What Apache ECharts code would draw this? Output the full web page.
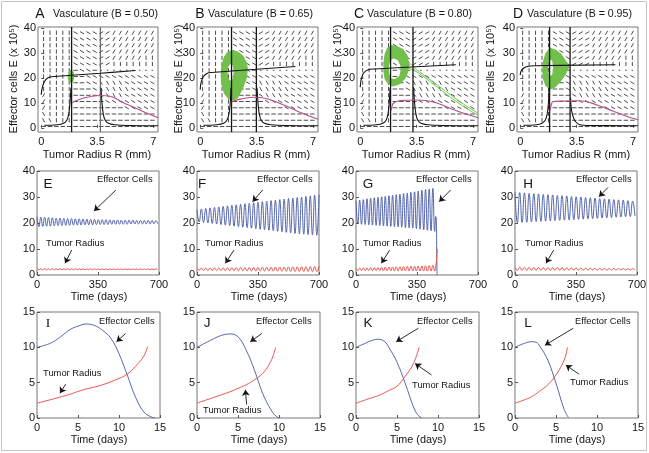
<!DOCTYPE html>
<html>
<head>
<meta charset="utf-8">
<script src="https://cdn.jsdelivr.net/npm/echarts@6/dist/echarts.min.js"></script>
<style>
  html, body { margin: 0; padding: 0; background: #fff; }
  #main { width: 649px; height: 453px; }
</style>
</head>
<body>
<div id="main"></div>
<script>
// ---------- row 1 : phase portraits ----------
const vascLetters = ['A', 'B', 'C', 'D'];
const vascValues = ['0.50', '0.65', '0.80', '0.95'];
const radiusTicks = [0, 3.5, 7];
const effTicks = [0, 10, 20, 30, 40];

// vertical R-nullclines
const rNull1 = [1.9, 1.94, 1.88, 1.82];
const rNull2 = [3.7, 3.48, 3.27, 3.09];

// E-nullcline (upper black curve)
const eNullA = [[0, 13.2], [0.06, 15.8], [0.2, 18.5], [0.4, 19.9], [0.65, 20.4], [1.9, 21.0], [3.7, 21.8], [5.9, 22.9]];
const eNullB = [[0, 15.2], [0.05, 18], [0.2, 20.5], [0.45, 21.8], [0.7, 22.1], [5.9, 24.5]];
const eNullC = [[0, 16.2], [0.05, 19], [0.2, 21.8], [0.5, 23.2], [0.9, 23.5], [5.93, 25.2]];
const eNullD = [[0, 21], [0.05, 22.6], [0.2, 23.8], [0.5, 24.6], [0.9, 24.8], [5.9, 25.2]];

// lower black curve, two branches
const lowLeftA = [[0.2, 1.0], [1.0, 1.2], [1.4, 1.8], [1.6, 3], [1.72, 5.5], [1.8, 10], [1.86, 16]];
const lowRightA = [[3.74, 16], [3.8, 10], [3.88, 5.5], [4.0, 3], [4.2, 1.8], [4.6, 1.2], [5.5, 0.9], [7.3, 0.8]];
const lowLeftB = [[0.2, 1.0], [1.0, 1.2], [1.45, 1.8], [1.65, 3], [1.78, 5.5], [1.86, 10], [1.91, 16]];
const lowRightB = [[3.52, 16], [3.58, 10], [3.66, 5.5], [3.78, 3], [3.98, 1.8], [4.4, 1.2], [5.3, 0.9], [7.3, 0.8]];
const lowLeftC = [[0.2, 1.0], [1.0, 1.2], [1.4, 1.8], [1.6, 3], [1.72, 5.5], [1.8, 10], [1.85, 16]];
const lowRightC = [[3.31, 16], [3.37, 10], [3.45, 5.5], [3.57, 3], [3.77, 1.8], [4.2, 1.2], [5.1, 0.9], [7.3, 0.8]];
const lowLeftD = [[0.2, 1.0], [1.0, 1.2], [1.35, 1.8], [1.55, 3], [1.67, 5.5], [1.75, 10], [1.79, 16]];
const lowRightD = [[3.12, 12], [3.18, 7], [3.3, 4], [3.45, 2.3], [3.7, 1.2], [4.2, 0.9], [7.3, 0.8]];

// magenta curve
const pinkA = [[1.95, 10], [2.1, 10.6], [2.6, 11.8], [3.2, 12.6], [3.7, 12.9], [4.3, 12.6], [4.8, 11.2], [5.3, 9.5], [5.8, 8.2], [6.4, 6.4], [7.3, 4.0]];
const pinkB = [[1.95, 10.2], [2.1, 10.8], [2.6, 11.6], [3.1, 12.1], [3.5, 12.2], [4.0, 11.8], [4.6, 10.6], [5.1, 9.3], [5.7, 7.6], [6.4, 5.6], [7.3, 3.4]];
const pinkC = [[1.92, 6.8], [1.97, 8.6], [2.05, 9.8], [2.3, 10.6], [2.8, 11.0], [3.4, 11.1], [4.0, 10.9], [4.6, 10.2], [5.2, 8.8], [5.8, 7.2], [6.5, 5.6], [7.3, 4.0]];
const pinkD = [[1.85, 6.8], [1.92, 9], [2.02, 10.4], [2.5, 10.7], [3.5, 10.8], [4.0, 10.6], [4.8, 9], [5.75, 6.7], [6.5, 4.8], [7.3, 3.2]];

// green trajectories (outer edge + hole)
const greenOuterA = [[1.86, 23], [1.98, 22.2], [2.03, 20.5], [1.98, 18.8], [1.86, 18.1], [1.74, 18.8], [1.69, 20.5], [1.74, 22.2]];
const greenHoleA = [];
const greenOuterB = [[2.0, 30.8], [2.35, 30.2], [2.65, 28.5], [2.85, 26], [2.92, 23.5], [2.85, 20], [2.6, 15.5], [2.3, 12], [2.05, 11.1], [1.75, 11.8], [1.5, 13.8], [1.35, 17.5], [1.3, 21], [1.35, 25], [1.5, 28.2], [1.7, 30.2]];
const greenHoleB = [[1.88, 25.8], [2.05, 25], [2.12, 22.5], [2.05, 19.5], [1.88, 18.3], [1.72, 19.5], [1.65, 22.5], [1.72, 25]];
const greenOuterC = [[1.95, 32.8], [2.3, 32.4], [2.65, 31.2], [2.9, 28.8], [3.0, 25.8], [2.95, 22.5], [2.75, 19.6], [2.4, 17.5], [2.05, 16.8], [1.75, 17.6], [1.55, 19.5], [1.47, 22.5], [1.47, 26], [1.55, 29.5], [1.7, 31.8]];
const greenHoleC = [[2.05, 28.0], [2.35, 27.3], [2.52, 25], [2.55, 23], [2.45, 20.5], [2.15, 19.2], [1.9, 19.6], [1.76, 21.5], [1.73, 24.5], [1.82, 27]];
const greenOuterD = [[1.85, 31.8], [2.2, 31], [2.5, 29.5], [2.75, 27.2], [3.02, 24.5], [2.8, 21.5], [2.5, 18.8], [2.15, 16.3], [1.85, 15.6], [1.6, 16.8], [1.45, 19.5], [1.4, 23], [1.45, 26.5], [1.58, 29.5]];
const greenHoleD = [[1.88, 27.6], [2.02, 26.8], [2.08, 24], [2.02, 21.2], [1.88, 20.4], [1.74, 21.2], [1.68, 24], [1.74, 26.8]];
const greenTailC1 = [[2.9, 27], [3.2, 25], [3.5, 23.2], [4.3, 19.4], [5.3, 14.6], [6.3, 9.9], [7.3, 5.8]];
const greenTailC2 = [[2.95, 24], [3.3, 23], [3.6, 22], [4.3, 18.6], [5.3, 13.6], [6.3, 8.9], [7.3, 5.0]];

// direction field: columns (R), rows (E), one letter per arrow
// v vertical, p steep up, a shallow up, h flat, b shallow down, n steep down, o tiny
const fieldR = [0.15, 0.55, 0.95, 1.35, 1.75, 2.15, 2.55, 2.95, 3.35, 3.75, 4.15, 4.55, 4.95, 5.35, 5.75, 6.15, 6.55, 6.95];
const fieldE = [38, 35.5, 33, 30.5, 28, 25.5, 23, 20.5, 18, 15.5, 13, 10.5, 8, 5.5, 3, 0.5];
const fieldAB = [
  'vvvvvbbbbaappppppp',
  'vvvvvbbbbaappppppp',
  'vvvvvbbbbaappppppp',
  'vvvvvbbbbaappppppp',
  'vvvvvbbbbaapppppvv',
  'vvvvvbbbbaavvvvvvv',
  'vvvvvhbbhooooooooo',
  'vvvvvhhbbbbbbbbbbb',
  'vvvvvhhbbnnnnbbbbb',
  'vvvvvhhhbnnnnnbbbb',
  'pvvvvhhhhbnnnbbbbb',
  'pvvvvhhhhhbbbbbbbb',
  'pvvvvhhhhhhhhbbbbb',
  'nvvvvhhhhhhhhhhhhh',
  'nnvvvhhhhhhhhhhhhh',
  'hhhhhhhhhhhhhhhhhh'
];
const fieldCD = [
  'vvvvvbbbaaappppppp',
  'vvvvvbbbaaappppppp',
  'vvvvvbbbaaappppppp',
  'vvvvvbbbaaappppppp',
  'vvvvvbbbaaapppppvv',
  'vvvvvbbbaaavvvvvvv',
  'vvvvvhbhoooooooooo',
  'vvvvvhhbbbbbbbbbbb',
  'vvvvvhhbnnnnnbbbbb',
  'vvvvvhhbnnnnnnbbbb',
  'pvvvvhhhbnnnnbbbbb',
  'pvvvvhhhhbbbbbbbbb',
  'pvvvvhhhhhhhhbbbbb',
  'nvvvvhhhhhhhhhhhhh',
  'nnvvvhhhhhhhhhhhhh',
  'hhhhhhhhhhhhhhhhhh'
];

// ---------- row 2 : long-term time courses ----------
const timeLetters = ['E', 'F', 'G', 'H'];
const longTimeTicks = [0, 350, 700];
const cycleDays = [22, 25, 21, 27];

const effHiE = [22.4, 22.3, 22.2, 22.1, 22.0, 21.9, 21.9, 21.8, 21.7, 21.7, 21.6, 21.6, 21.5, 21.5, 21.4, 21.4, 21.3, 21.3, 21.3, 21.2, 21.2, 21.2, 21.1, 21.1, 21.1, 21.1, 21.0, 21.0, 21.0, 21.0, 21.0, 20.9];
const effLoE = [18.6, 18.7, 18.8, 18.8, 18.9, 19.0, 19.0, 19.1, 19.1, 19.2, 19.2, 19.2, 19.3, 19.3, 19.3, 19.4, 19.4, 19.4, 19.4, 19.5, 19.5, 19.5, 19.5, 19.5, 19.6, 19.6, 19.6, 19.6, 19.6, 19.6, 19.7, 19.7];
const radHiE = [2.45, 2.44, 2.43, 2.42, 2.41, 2.40, 2.40, 2.39, 2.38, 2.38, 2.37, 2.37, 2.36, 2.36, 2.35, 2.35, 2.35, 2.34, 2.34, 2.34, 2.33, 2.33, 2.33, 2.33, 2.32, 2.32, 2.32, 2.32, 2.31, 2.31, 2.31, 2.31];
const radLoE = [1.95, 1.96, 1.97, 1.98, 1.99, 2.00, 2.00, 2.01, 2.02, 2.02, 2.03, 2.03, 2.04, 2.04, 2.05, 2.05, 2.05, 2.06, 2.06, 2.06, 2.07, 2.07, 2.07, 2.07, 2.08, 2.08, 2.08, 2.08, 2.09, 2.09, 2.09, 2.09];

const effHiF = [25.2, 25.4, 25.6, 25.8, 26.0, 26.2, 26.4, 26.6, 26.8, 27.0, 27.2, 27.4, 27.6, 27.8, 28.0, 28.2, 28.4, 28.6, 28.8, 29.0, 29.2, 29.4, 29.6, 29.8, 30.0, 30.2, 30.4, 30.7, 30.9];
const effLoF = [20.4, 20.2, 20.0, 19.8, 19.6, 19.4, 19.2, 19.0, 18.8, 18.6, 18.4, 18.2, 18.0, 17.8, 17.6, 17.4, 17.2, 17.0, 16.8, 16.6, 16.4, 16.2, 16.0, 15.8, 15.7, 15.6, 15.4, 15.3];
const radHiF = [2.6, 2.62, 2.65, 2.67, 2.7, 2.72, 2.75, 2.77, 2.8, 2.82, 2.85, 2.87, 2.9, 2.92, 2.95, 2.97, 3.0, 3.02, 3.05, 3.07, 3.1, 3.12, 3.15, 3.17, 3.2, 3.22, 3.25, 3.3, 3.32];
const radLoF = [1.8, 1.78, 1.76, 1.74, 1.72, 1.7, 1.68, 1.66, 1.64, 1.62, 1.6, 1.58, 1.56, 1.54, 1.52, 1.5, 1.48, 1.46, 1.44, 1.42, 1.4, 1.38, 1.36, 1.34, 1.33, 1.32, 1.31, 1.3];

const effHiG = [28.6, 28.8, 29.0, 29.3, 29.5, 29.7, 29.9, 30.1, 30.3, 30.5, 30.7, 30.9, 31.1, 31.3, 31.5, 31.8, 32.0, 32.3, 32.6, 32.9, 33.1];
const effLoG = [19.6, 19.5, 19.4, 19.3, 19.2, 19.1, 19.0, 18.9, 18.8, 18.7, 18.6, 18.5, 18.4, 18.2, 18.1, 18.0, 17.8, 17.6, 17.4, 17.2, 17.0];
const radHiG = [2.6, 2.65, 2.7, 2.75, 2.8, 2.85, 2.9, 2.95, 3.0, 3.05, 3.1, 3.15, 3.2, 3.25, 3.3, 3.35, 3.4, 3.45, 3.5, 3.55, 3.6];
const radLoG = [1.7, 1.7, 1.69, 1.68, 1.67, 1.66, 1.65, 1.64, 1.63, 1.62, 1.61, 1.6, 1.59, 1.58, 1.57, 1.56, 1.55, 1.54, 1.53, 1.52, 1.5];
const effTailG = [[441, 33.3], [451.5, 16.8], [458, 22.5], [461, 21], [463, 10], [465, 0]];
const radTailG = [[441, 3.7], [451.5, 1.5], [458, 3.8], [461, 5], [464, 7.5], [467, 10]];

const effHiH = [31.8, 31.7, 31.6, 31.4, 31.3, 31.2, 31.0, 30.9, 30.8, 30.6, 30.5, 30.4, 30.2, 30.1, 30.0, 29.8, 29.7, 29.6, 29.4, 29.3, 29.2, 29.0, 28.9, 28.8, 28.6, 28.4];
const effLoH = [20.1, 20.2, 20.3, 20.4, 20.5, 20.6, 20.7, 20.8, 20.9, 21.0, 21.1, 21.2, 21.3, 21.4, 21.5, 21.6, 21.7, 21.8, 21.9, 22.0, 22.1, 22.2, 22.3, 22.4, 22.5, 22.7];
const radHiH = [3.0, 2.98, 2.96, 2.93, 2.91, 2.88, 2.86, 2.84, 2.81, 2.79, 2.77, 2.74, 2.72, 2.7, 2.67, 2.65, 2.62, 2.6, 2.58, 2.55, 2.53, 2.5, 2.48, 2.46, 2.43, 2.4];
const radLoH = [1.8, 1.81, 1.81, 1.82, 1.82, 1.83, 1.83, 1.84, 1.84, 1.85, 1.85, 1.86, 1.86, 1.87, 1.87, 1.88, 1.88, 1.89, 1.89, 1.9, 1.9, 1.91, 1.92, 1.93, 1.94, 1.95];

// ---------- row 3 : short-term time courses ----------
const shortLetters = ['I', 'J', 'K', 'L'];
const shortTimeTicks = [0, 5, 10, 15];
const shortValTicks = [0, 5, 10, 15];
const effI = [[0, 10], [1, 10.3], [2, 10.8], [3, 11.6], [4, 12.5], [5, 13.0], [6, 13.3], [7, 13.1], [8, 12.4], [9, 11.3], [10, 9.1], [11, 6.1], [12, 3.0], [13, 0.9], [14, 0.1], [14.4, 0]];
const radI = [[0, 2.1], [2, 2.7], [4, 3.35], [5, 3.75], [6, 4.1], [8, 4.7], [10, 5.6], [11, 6.2], [12, 7.3], [13, 8.7], [13.5, 10.1]];
const effJ = [[0, 10], [1, 10.6], [2, 11.2], [3, 11.7], [4, 11.9], [5, 11.5], [6, 9.6], [7, 6.8], [8, 3.5], [9, 1.2], [9.6, 0.3], [10, 0]];
const radJ = [[0, 2.1], [2, 2.9], [4, 3.7], [5, 4.2], [6, 4.7], [7, 5.4], [8, 6.3], [9, 8.0], [9.6, 10]];
const effK = [[0, 10], [1, 10.5], [2, 11.0], [2.7, 11.15], [3.5, 10.8], [4, 10.0], [5, 7.9], [6, 4.9], [7, 1.6], [7.5, 0.5], [8, 0]];
const radK = [[0, 2.1], [1.5, 2.7], [3, 3.3], [4, 3.9], [5, 4.5], [6, 5.9], [7, 7.7], [7.7, 10]];
const effL = [[0, 10], [1, 10.5], [2, 10.8], [2.6, 10.7], [3, 10.2], [4, 8.2], [5, 4.9], [6, 1.2], [6.5, 0.1]];
const radL = [[0, 2.1], [1, 2.5], [2, 3.0], [3, 3.8], [4, 4.7], [5, 6.1], [6, 8.2], [6.4, 10]];

// annotation arrows [from, to] in data units
const arrowEffLong = [[[453, 32.7], [327, 24.6]], [[377, 32.7], [319, 28.2]], [[543, 32.7], [477, 28.2]], [[534, 33.7], [482, 30.1]]];
const arrowRadLong = [[[199, 9.6], [161, 4.5]], [[212, 9.6], [163, 4.5]], [[193, 9.6], [146, 4.5]], [[222, 9.6], [178, 4.5]]];
const arrowEffShort = [[[10.8, 11.95], [9.7, 10.8]], [[7.9, 11.95], [6.5, 10.8]], [[7.6, 12.7], [4.9, 10.8]], [[7.1, 12.7], [3.65, 10.3]]];
const arrowRadShort = [[[3.5, 4.8], [2.8, 3.5]], [[6.05, 1.9], [5.9, 4.0]], [[9.2, 6.1], [7.2, 7.7]], [[7.8, 6.2], [6.2, 7.5]]];

// ---------------------------------------------------------------
const FONT = '"Liberation Sans", Arial, Helvetica, sans-serif';
const BLUE = '#4356a3', RED = '#e4453d', GREEN = '#72bf4c', PINK = '#b84f8f', INK = '#151515';

const grids = [], xAxes = [], yAxes = [], series = [], graphics = [];

function addGrid(left, top, width, height, xr, yr, xTicks, yTicks) {
  const idx = grids.length;
  grids.push({ left: left, top: top, width: width, height: height, show: true, borderColor: '#777', borderWidth: 1, outerBoundsMode: 'none' });
  xAxes.push({
    gridIndex: idx, type: 'value', min: xr[0], max: xr[1],
    axisLine: { show: false }, splitLine: { show: false },
    axisTick: { show: true, inside: true, length: 3, customValues: xTicks, lineStyle: { color: '#555' } },
    axisLabel: { customValues: xTicks, margin: 4, color: INK, fontSize: 11, fontFamily: FONT }
  });
  yAxes.push({
    gridIndex: idx, type: 'value', min: yr[0], max: yr[1],
    axisLine: { show: false }, splitLine: { show: false },
    axisTick: { show: true, inside: true, length: 3, customValues: yTicks, lineStyle: { color: '#555' } },
    axisLabel: { customValues: yTicks, margin: 2, color: INK, fontSize: 11, fontFamily: FONT }
  });
  return idx;
}

function lineSeries(g, data, color, width, smooth, z) {
  return {
    type: 'line', xAxisIndex: g, yAxisIndex: g, data: data, showSymbol: false, symbol: 'none',
    smooth: smooth || false, silent: true, animation: false, z: z || 3,
    lineStyle: { color: color, width: width }
  };
}

function text(str, x, y, size, opts) {
  opts = opts || {};
  graphics.push({
    type: 'text', x: x, y: y, rotation: opts.rotation || 0, silent: true, z: 10,
    style: {
      text: str, fill: INK, font: (opts.family ? size + 'px ' + opts.family : size + 'px ' + FONT),
      textAlign: opts.align || 'center', align: opts.align || 'center',
      textVerticalAlign: 'middle', verticalAlign: 'middle'
    }
  });
}

const arrowAngle = { v: 90, p: 60, a: 30, h: 0, b: -30, n: -60, o: 0 };
function fieldData(rows) {
  const out = [];
  rows.forEach(function (row, i) {
    for (let j = 0; j < row.length; j++) {
      const c = row[j];
      out.push([fieldR[j], fieldE[i], arrowAngle[c], c === 'o' ? 1.6 : (c === 'v' ? 4.2 : 4.6)]);
    }
  });
  return out;
}

function ringArea(r) {
  let s = 0;
  for (let i = 0; i < r.length; i++) {
    const a = r[i], b = r[(i + 1) % r.length];
    s += a[0] * b[1] - b[0] * a[1];
  }
  return s;
}

function blobSeries(g, outer, hole) {
  const data = outer.map(function (p) { return [p[0], p[1], 0]; })
    .concat(hole.map(function (p) { return [p[0], p[1], 1]; }));
  return {
    type: 'custom', xAxisIndex: g, yAxisIndex: g, silent: true, animation: false, z: 2, clip: true,
    data: data,
    renderItem: function (params, api) {
      if (params.dataIndexInside !== 0) return null;
      const rings = [[], []];
      for (let i = 0; i < params.dataInsideLength; i++) {
        rings[api.value(2, i)].push(api.coord([api.value(0, i), api.value(1, i)]));
      }
      if (rings[1].length && Math.sign(ringArea(rings[1])) === Math.sign(ringArea(rings[0]))) rings[1].reverse();
      let d = '';
      rings.forEach(function (r) {
        if (!r.length) return;
        d += 'M' + r.map(function (p) { return p[0].toFixed(2) + ' ' + p[1].toFixed(2); }).join(' L') + ' Z ';
      });
      return { type: 'path', shape: { pathData: d }, style: { fill: GREEN, stroke: GREEN, lineWidth: 1.2 } };
    }
  };
}

// zig-zag between read peaks and troughs, one cycle per entry
function oscillation(hi, lo, period) {
  const pts = [];
  for (let i = 0; i < hi.length; i++) {
    pts.push([i * period, hi[i]]);
    if (i < lo.length) pts.push([(i + 0.5) * period, lo[i]]);
  }
  return pts;
}

function arrowMarks(list) {
  return {
    silent: true, animation: false, symbol: ['none', 'arrow'], symbolSize: 6,
    label: { show: false }, lineStyle: { color: INK, width: 0.9, type: 'solid' },
    data: list.map(function (a) { return [{ coord: a[0] }, { coord: a[1] }]; })
  };
}

// ---------- row 1 ----------
const row1Left = [38, 197, 357, 517];
const row1Width = [120, 121, 121, 121];
const yNameX = [14, 179, 338, 491];
const titleLetterX = [40, 200, 359, 518];
const titleTextX = [53, 208, 367, 527];
const eNull = [eNullA, eNullB, eNullC, eNullD];
const lowLeft = [lowLeftA, lowLeftB, lowLeftC, lowLeftD];
const lowRight = [lowRightA, lowRightB, lowRightC, lowRightD];
const pink = [pinkA, pinkB, pinkC, pinkD];
const gOuter = [greenOuterA, greenOuterB, greenOuterC, greenOuterD];
const gHole = [greenHoleA, greenHoleB, greenHoleC, greenHoleD];
const fields = [fieldAB, fieldAB, fieldCD, fieldCD];
const vColor2 = ['#6c6c6c', INK, INK, INK];

for (let k = 0; k < 4; k++) {
  const g = addGrid(row1Left[k], 27, row1Width[k], 105, [-0.2, 7.3], [-1.7, 40.3], radiusTicks, effTicks);
  series.push({
    type: 'custom', xAxisIndex: g, yAxisIndex: g, silent: true, animation: false, z: 1, clip: true,
    data: fieldData(fields[k]),
    renderItem: function (params, api) {
      const p = api.coord([api.value(0), api.value(1)]);
      const a = api.value(2) * Math.PI / 180, L = api.value(3) / 2;
      const dx = Math.cos(a) * L, dy = Math.sin(a) * L;
      return { type: 'line', shape: { x1: p[0] - dx, y1: p[1] + dy, x2: p[0] + dx, y2: p[1] - dy }, style: { stroke: '#3a3a3a', lineWidth: 0.9 } };
    }
  });
  series.push(blobSeries(g, gOuter[k], gHole[k]));
  if (k === 2) {
    series.push(lineSeries(g, greenTailC1, GREEN, 1, 0.3, 2));
    series.push(lineSeries(g, greenTailC2, GREEN, 1, 0.3, 2));
  }
  series.push(lineSeries(g, [[rNull1[k], -1.7], [rNull1[k], 40.3]], INK, 1.3));
  series.push(lineSeries(g, [[rNull2[k], -1.7], [rNull2[k], 40.3]], vColor2[k], 1.3));
  series.push(lineSeries(g, eNull[k], INK, 1.1, 0.4));
  series.push(lineSeries(g, lowLeft[k], INK, 1.1, 0.4));
  series.push(lineSeries(g, lowRight[k], INK, 1.1, 0.4));
  series.push(lineSeries(g, pink[k], PINK, 1.2, 0.4));

  text(vascLetters[k], titleLetterX[k], 14, 14);
  text('Vasculature (B = ' + vascValues[k] + ')', titleTextX[k], 14, 10.6, { align: 'left' });
  text('Effector cells E (x 10\u2075)', yNameX[k], 79, 11, { rotation: Math.PI / 2 });
  text('Tumor Radius R (mm)', row1Left[k] + 59, 155, 11);
}

// ---------- row 2 ----------
const row2Left = [37, 197, 356, 515];
const effHi = [effHiE, effHiF, effHiG, effHiH];
const effLo = [effLoE, effLoF, effLoG, effLoH];
const radHi = [radHiE, radHiF, radHiG, radHiH];
const radLo = [radLoE, radLoF, radLoG, radLoH];
const effLabelX = [97, 257, 416, 576];
const radLabelX = [46, 205, 363, 525];
const letter2X = [48, 202, 368, 528];

for (let k = 0; k < 4; k++) {
  const g = addGrid(row2Left[k], 171, 122, 104, [0, 700], [0, 40], longTimeTicks, effTicks);
  let eff = oscillation(effHi[k], effLo[k], cycleDays[k]);
  let rad = oscillation(radHi[k], radLo[k], cycleDays[k]);
  if (k === 2) { eff = eff.concat(effTailG); rad = rad.concat(radTailG); }
  const es = lineSeries(g, eff, BLUE, 0.9, 0.5);
  es.markLine = arrowMarks([arrowEffLong[k], arrowRadLong[k]]);
  series.push(es);
  series.push(lineSeries(g, rad, RED, 0.9, 0.5));
  text(timeLetters[k], letter2X[k], 184, 13.5);
  text('Effector Cells', effLabelX[k], 179, 9.4, { align: 'left' });
  text('Tumor Radius', radLabelX[k], 243, 9.4, { align: 'left' });
  text('Time (days)', row2Left[k] + 62, 297, 10.8);
}

// ---------- row 3 ----------
const row3Left = [37, 197, 356, 515];
const effShort = [effI, effJ, effK, effL];
const radShort = [radI, radJ, radK, radL];
const effLabel3X = [99, 256, 417, 575];
const radLabel3 = [[43, 373], [203, 410], [412, 385], [570, 382]];
const letter3X = [48, 207, 368, 528];

for (let k = 0; k < 4; k++) {
  const g = addGrid(row3Left[k], 312, 123, 106, [0, 15], [0, 15], shortTimeTicks, shortValTicks);
  const es = lineSeries(g, effShort[k], BLUE, 0.9, 0.4);
  es.markLine = arrowMarks([arrowEffShort[k], arrowRadShort[k]]);
  series.push(es);
  series.push(lineSeries(g, radShort[k], RED, 0.9, 0.4));
  text(shortLetters[k], letter3X[k], 323, 13.5, k === 0 ? { family: '"Liberation Serif", serif' } : null);
  text('Effector Cells', effLabel3X[k], 321, 9.4, { align: 'left' });
  text('Tumor Radius', radLabel3[k][0], radLabel3[k][1], 9.4, { align: 'left' });
  text('Time (days)', row3Left[k] + 62, 440, 10.8);
}

// outer frame
graphics.push({
  type: 'rect', silent: true, z: 0,
  shape: { x: 1.5, y: 1.5, width: 645, height: 449 },
  style: { fill: 'none', stroke: '#c4c4c4', lineWidth: 1 }
});

const myChart = echarts.init(document.getElementById('main'));
myChart.setOption({
  animation: false,
  backgroundColor: '#fff',
  grid: grids,
  xAxis: xAxes,
  yAxis: yAxes,
  series: series,
  graphic: { elements: graphics }
});
</script>
</body>
</html>
